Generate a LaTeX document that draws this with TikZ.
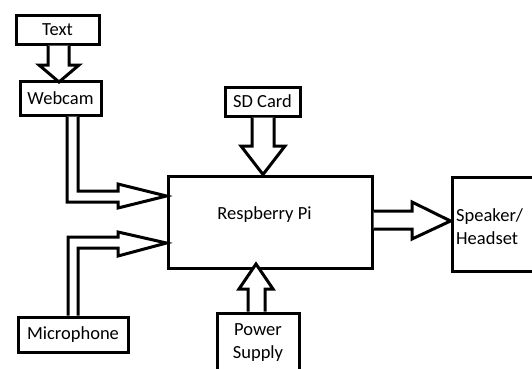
\documentclass[tikz,border=0pt]{standalone}
\usepackage{fontspec}
\setmainfont{Carlito}
\usetikzlibrary{calc}
\begin{document}
\begin{tikzpicture}[x=1pt,y=-1pt,
  box/.style={draw,line width=3pt,inner sep=0pt,font=\fontsize{18.5}{22}\selectfont},
  blockarrow/.style={draw,line width=3pt,fill=white,line join=miter}]
\useasboundingbox (0,0) rectangle (532,368);
\clip (0,0) rectangle (532,368);
% boxes
\node[box,minimum width=83pt,minimum height=29pt] (text) at (57.5,29.5) {Text};
\node[box,minimum width=81pt,minimum height=34pt] (webcam) at (60.5,98) {Webcam};
\node[box,minimum width=75pt,minimum height=29pt] (sd) at (262.5,101.5) {SD Card};
\node[box,minimum width=204pt,minimum height=92pt] (pi) at (270,222) {};
\node[font=\fontsize{18.5}{22}\selectfont] (pilabel) at (264.5,214.5) {Respberry Pi};
\node[box,minimum width=110pt,minimum height=35pt] (mic) at (73,334.5) {Microphone};
\node[box,minimum width=100pt,minimum height=94pt] (spk) at (502,224) {};
\node[font=\fontsize{18.5}{23}\selectfont,align=left,anchor=west,inner sep=0pt] (spklabel) at (456,227) {Speaker/\\Headset};
\node[box,minimum width=82pt,minimum height=70pt] (pwr) at (258,348) {};
\node[font=\fontsize{18.5}{23}\selectfont,align=center,inner sep=0pt] (pwrlabel) at (258,343) {Power\\Supply};
% Text -> Webcam
\draw[blockarrow] (text.south -| 48,0) -- (48,65) -- (39,65) -- (59,82) -- (79,65) -- (69,65) -- (text.south -| 69,0);
% SD -> Pi
\draw[blockarrow] (sd.south -| 252,0) -- (252,146) -- (241,146) -- (pi.north -| 263,0) -- (285,146) -- (274,146) -- (sd.south -| 274,0);
% Power -> Pi
\draw[blockarrow] (pwr.north -| 248,0) -- (248,289) -- (239,289) -- (256,264) -- (273,289) -- (265,289) -- (pwr.north -| 265,0);
% Pi -> Speaker
\draw[blockarrow] (pi.east |- 0,211) -- (412,211) -- (412,202) -- (spk.west |- 0,221) -- (412,239) -- (412,229) -- (pi.east |- 0,229);
% Webcam -> Pi
\draw[blockarrow] (webcam.south -| 67,0) -- (67,202) -- (118,202) -- (118,208) -- (pi.west |- 0,196) -- (118,184) -- (118,191) -- (78,191) -- (webcam.south -| 78,0);
% Microphone -> Pi
\draw[blockarrow] (mic.north -| 68,0) -- (68,237) -- (118,237) -- (118,232) -- (pi.west |- 0,243) -- (118,256) -- (118,248) -- (78,248) -- (mic.north -| 78,0);
\end{tikzpicture}
\end{document}
